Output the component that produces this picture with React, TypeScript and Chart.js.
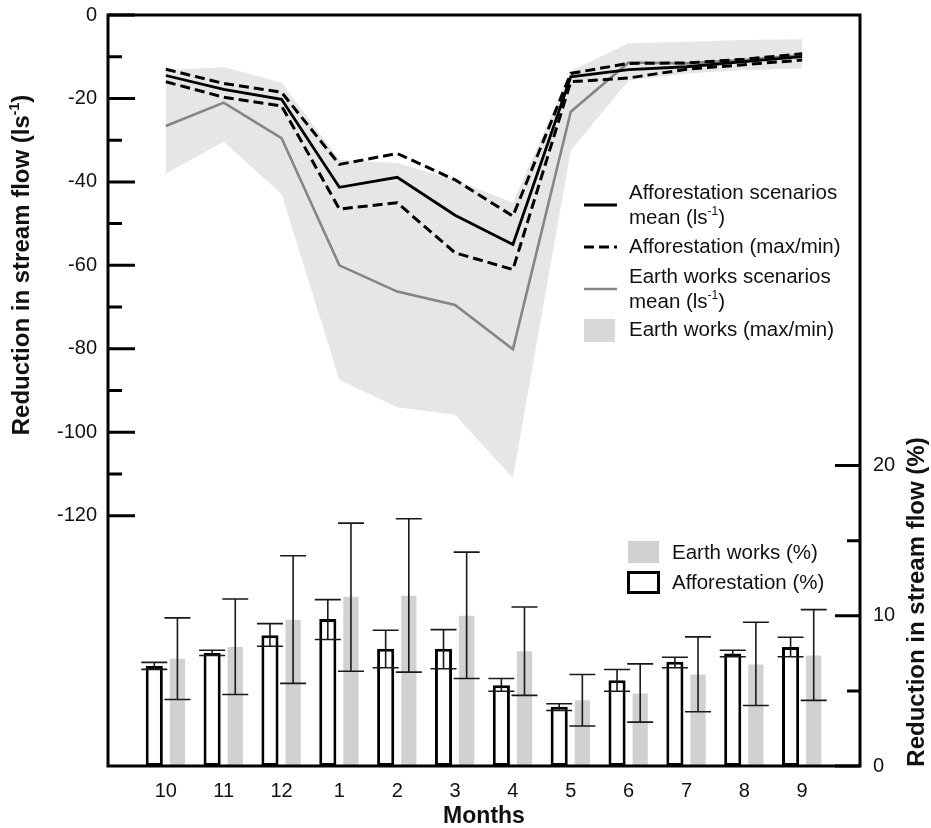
import React, { useEffect, useRef } from 'react';
import { Chart, registerables } from 'chart.js';

Chart.register(...registerables);

// ---------- data ----------
const months = ['10', '11', '12', '1', '2', '3', '4', '5', '6', '7', '8', '9'];

// stream-flow reduction (l/s), left axis
const affMean = [-14.5, -17.8, -20.2, -41.3, -38.9, -48, -55, -14.8, -13.1, -12.4, -11.2, -10];
const affMax = [-13, -16.4, -18.5, -35.8, -33.2, -39.5, -48.2, -14, -11.6, -11.5, -10.6, -9.3];
const affMin = [-16, -19.7, -21.8, -46.5, -45, -57, -61, -16, -15.1, -13, -11.9, -10.8];
const earthMean = [-26.6, -21, -29.5, -60, -66.3, -69.5, -80.1, -23.2, -11.4, -11.6, -10.8, -9.6];
const earthBandMax = [-13.2, -12.5, -16.2, -34.7, -35.5, -39.5, -45, -13.4, -6.8, -6.4, -6, -5.8];
const earthBandMin = [-38, -30.4, -42.9, -87.4, -94, -95.8, -111, -32.5, -15.7, -14, -13.2, -12.8];

// stream-flow reduction (%), right axis
const affPct = [6.65, 7.53, 8.71, 9.79, 7.8, 7.8, 5.38, 3.95, 5.71, 6.94, 7.49, 7.93];
const affPctHi = [6.9, 7.71, 9.48, 11.08, 9.04, 9.08, 5.83, 4.14, 6.42, 7.24, 7.71, 8.57];
const affPctLo = [6.43, 7.36, 7.97, 8.42, 6.54, 6.47, 4.98, 3.7, 4.98, 6.54, 7.27, 7.27];
const earthPct = [7.14, 7.93, 9.73, 11.26, 11.34, 10.01, 7.64, 4.37, 4.83, 6.09, 6.76, 7.36];
const earthPctHi = [9.86, 11.12, 14.0, 16.17, 16.46, 14.24, 10.59, 6.09, 6.8, 8.6, 9.57, 10.41];
const earthPctLo = [4.43, 4.76, 5.5, 6.31, 6.25, 5.83, 4.7, 2.66, 2.92, 3.61, 4.03, 4.37];

// tick values
const leftTicks = [0, -10, -20, -30, -40, -50, -60, -70, -80, -90, -100, -110, -120];
const rightTicks = [0, 5, 10, 15, 20];

// ---------- style ----------
const FONT = '"Liberation Sans", Arial, Helvetica, sans-serif';
const TXT = '#111111';
const BAND = '#e6e6e6';
const BARGREY = '#d1d1d1';
const GREYLINE = '#858585';

const padArr = (a: number[]) => [null, ...a, null];
const labels = ['', ...months, ''];

type Seg = { t: string; sup?: boolean };

function drawRich(ctx: CanvasRenderingContext2D, x: number, y: number, segs: Seg[], size: number, weight: string, align: 'left' | 'center') {
  const supSize = Math.round(size * 0.6);
  const fontN = `${weight} ${size}px ${FONT}`;
  const fontS = `${weight} ${supSize}px ${FONT}`;
  let total = 0;
  const widths = segs.map((s) => {
    ctx.font = s.sup ? fontS : fontN;
    const w = ctx.measureText(s.t).width;
    total += w;
    return w;
  });
  let cx = align === 'center' ? x - total / 2 : x;
  ctx.textAlign = 'left';
  ctx.textBaseline = 'middle';
  segs.forEach((s, i) => {
    ctx.font = s.sup ? fontS : fontN;
    ctx.fillText(s.t, cx, s.sup ? y - size * 0.32 : y);
    cx += widths[i];
  });
}

const errorBarsPlugin = {
  id: 'errorBars',
  afterDatasetsDraw(chart: any) {
    const ctx = chart.ctx;
    const yR = chart.scales.yR;
    const sets: [number, number[], number[]][] = [
      [6, affPctHi, affPctLo],
      [7, earthPctHi, earthPctLo],
    ];
    ctx.save();
    ctx.strokeStyle = '#1a1a1a';
    ctx.lineWidth = 1.6;
    sets.forEach(([di, hi, lo]) => {
      const meta = chart.getDatasetMeta(di);
      meta.data.forEach((el: any, i: number) => {
        const k = i - 1;
        if (k < 0 || k >= hi.length) return;
        const x = el.x;
        const yh = yR.getPixelForValue(hi[k]);
        const yl = yR.getPixelForValue(lo[k]);
        ctx.beginPath();
        ctx.moveTo(x, yh);
        ctx.lineTo(x, yl);
        ctx.moveTo(x - 13, yh);
        ctx.lineTo(x + 13, yh);
        ctx.moveTo(x - 13, yl);
        ctx.lineTo(x + 13, yl);
        ctx.stroke();
      });
    });
    ctx.restore();
  },
};

const decorPlugin = {
  id: 'decor',
  afterDraw(chart: any) {
    const ctx = chart.ctx as CanvasRenderingContext2D;
    const { left, right, top, bottom } = chart.chartArea;
    const yL = chart.scales.yL;
    const yR = chart.scales.yR;
    ctx.save();
    // frame
    ctx.strokeStyle = '#000';
    ctx.lineWidth = 3;
    ctx.strokeRect(left, top, right - left, bottom - top);
    // inward tick marks
    ctx.beginPath();
    leftTicks.forEach((v) => {
      const y = yL.getPixelForValue(v);
      const len = v % 20 === 0 ? 27 : 14;
      ctx.moveTo(left, y);
      ctx.lineTo(left + len, y);
    });
    rightTicks.forEach((v) => {
      const y = yR.getPixelForValue(v);
      const len = v % 10 === 0 ? 25 : 13;
      ctx.moveTo(right - len, y);
      ctx.lineTo(right, y);
    });
    ctx.stroke();

    // axis titles
    ctx.fillStyle = TXT;
    ctx.save();
    ctx.translate(22.5, 265);
    ctx.rotate(-Math.PI / 2);
    drawRich(ctx, 0, 0, [{ t: 'Reduction in stream flow (ls' }, { t: '-1', sup: true }, { t: ')' }], 24, 'bold', 'center');
    ctx.restore();
    ctx.save();
    ctx.translate(917, 602);
    ctx.rotate(-Math.PI / 2);
    drawRich(ctx, 0, 0, [{ t: 'Reduction in stream flow (%)' }], 24, 'bold', 'center');
    ctx.restore();

    // legend 1 (lines)
    const lx0 = 584, lx1 = 617, tx = 629, fs = 20.5;
    ctx.lineCap = 'butt';
    ctx.strokeStyle = '#000';
    ctx.lineWidth = 3;
    ctx.setLineDash([]);
    ctx.beginPath(); ctx.moveTo(lx0, 205); ctx.lineTo(lx1, 205); ctx.stroke();
    ctx.setLineDash([10, 5]);
    ctx.beginPath(); ctx.moveTo(lx0, 247); ctx.lineTo(lx1, 247); ctx.stroke();
    ctx.setLineDash([]);
    ctx.strokeStyle = GREYLINE;
    ctx.lineWidth = 2.6;
    ctx.beginPath(); ctx.moveTo(lx0, 289); ctx.lineTo(lx1, 289); ctx.stroke();
    ctx.fillStyle = '#d8d8d8';
    ctx.fillRect(lx0, 319, 31, 23);
    ctx.fillStyle = TXT;
    drawRich(ctx, tx, 193, [{ t: 'Afforestation scenarios' }], fs, 'normal', 'left');
    drawRich(ctx, tx, 218, [{ t: 'mean (ls' }, { t: '-1', sup: true }, { t: ')' }], fs, 'normal', 'left');
    drawRich(ctx, tx, 247, [{ t: 'Afforestation (max/min)' }], fs, 'normal', 'left');
    drawRich(ctx, tx, 277, [{ t: 'Earth works scenarios' }], fs, 'normal', 'left');
    drawRich(ctx, tx, 302, [{ t: 'mean (ls' }, { t: '-1', sup: true }, { t: ')' }], fs, 'normal', 'left');
    drawRich(ctx, tx, 330, [{ t: 'Earth works (max/min)' }], fs, 'normal', 'left');

    // legend 2 (bars)
    ctx.fillStyle = BARGREY;
    ctx.fillRect(628, 541, 31, 22);
    ctx.strokeStyle = '#000';
    ctx.lineWidth = 3;
    ctx.strokeRect(628.5, 572.5, 30, 20);
    ctx.fillStyle = TXT;
    drawRich(ctx, 672, 553, [{ t: 'Earth works (%)' }], fs, 'normal', 'left');
    drawRich(ctx, 672, 583, [{ t: 'Afforestation (%)' }], fs, 'normal', 'left');
    ctx.restore();
  },
};

export default function App() {
  const ref = useRef<HTMLCanvasElement | null>(null);

  useEffect(() => {
    if (!ref.current) return;
    const lineBase = {
      type: 'line' as const,
      yAxisID: 'yL',
      pointRadius: 0,
      tension: 0,
      spanGaps: false,
    };
    const fitV = (w: number) => (s: any) => {
      s.width = w;
      s.paddingTop = 0;
      s.paddingBottom = 0;
    };
    const chart = new Chart(ref.current, {
      type: 'bar',
      data: {
        labels,
        datasets: [
          { ...lineBase, label: 'Earth works (max)', data: padArr(earthBandMax), borderWidth: 0, borderColor: 'rgba(0,0,0,0)', backgroundColor: BAND, fill: '+1', order: 10 },
          { ...lineBase, label: 'Earth works (min)', data: padArr(earthBandMin), borderWidth: 0, borderColor: 'rgba(0,0,0,0)', backgroundColor: BAND, fill: false, order: 11 },
          { ...lineBase, label: 'Earth works scenarios mean', data: padArr(earthMean), borderColor: GREYLINE, borderWidth: 2.6, fill: false, order: 5 },
          { ...lineBase, label: 'Afforestation max', data: padArr(affMax), borderColor: '#000', borderWidth: 3, borderDash: [10, 5], fill: false, order: 3 },
          { ...lineBase, label: 'Afforestation min', data: padArr(affMin), borderColor: '#000', borderWidth: 3, borderDash: [10, 5], fill: false, order: 4 },
          { ...lineBase, label: 'Afforestation scenarios mean', data: padArr(affMean), borderColor: '#000', borderWidth: 2.8, fill: false, order: 2 },
          { type: 'bar', label: 'Afforestation (%)', yAxisID: 'yR', data: padArr(affPct), backgroundColor: '#ffffff', borderColor: '#000', borderWidth: 3, borderSkipped: false, categoryPercentage: 0.8, barPercentage: 0.74, order: 0 } as any,
          { type: 'bar', label: 'Earth works (%)', yAxisID: 'yR', data: padArr(earthPct), backgroundColor: BARGREY, borderWidth: 0, categoryPercentage: 0.8, barPercentage: 0.66, order: 1 } as any,
        ] as any,
      },
      options: {
        animation: false,
        responsive: false,
        maintainAspectRatio: false,
        layout: { padding: { top: 15, left: 0, right: 0, bottom: 0 } },
        plugins: {
          legend: { display: false },
          tooltip: { enabled: false },
        },
        scales: {
          x: {
            type: 'category',
            offset: false,
            grid: { display: false, drawTicks: false, offset: false },
            border: { display: false },
            ticks: { color: TXT, font: { family: FONT, size: 20 }, padding: 13, autoSkip: false, maxRotation: 0 },
            title: { display: true, text: 'Months', color: TXT, font: { family: FONT, size: 23, weight: 'bold' }, padding: { top: 0, bottom: -2 } },
            afterFit: (s: any) => { s.height = 62; s.paddingLeft = 0; s.paddingRight = 0; },
          },
          yL: {
            type: 'linear',
            position: 'left',
            min: -180,
            max: 0,
            grid: { display: false, drawTicks: false },
            border: { display: false },
            ticks: {
              stepSize: 10,
              autoSkip: false,
              color: TXT,
              font: { family: FONT, size: 20 },
              padding: 11,
              callback: (v: any) => (v % 20 === 0 && v >= -120 ? String(v) : ''),
            },
            afterFit: fitV(108),
          },
          yR: {
            type: 'linear',
            position: 'right',
            min: 0,
            max: 50,
            grid: { display: false, drawTicks: false },
            border: { display: false },
            ticks: {
              stepSize: 5,
              autoSkip: false,
              color: TXT,
              font: { family: FONT, size: 20 },
              padding: 13,
              callback: (v: any) => (v % 10 === 0 && v <= 20 ? String(v) : ''),
            },
            afterFit: fitV(71),
          },
        },
      } as any,
      plugins: [errorBarsPlugin, decorPlugin],
    });
    return () => chart.destroy();
  }, []);

  return (
    <div style={{ position: 'absolute', left: 0, top: 0, width: 931, height: 828, background: '#fff' }}>
      <canvas ref={ref} width={931} height={828} style={{ width: 931, height: 828, display: 'block' }} />
    </div>
  );
}
